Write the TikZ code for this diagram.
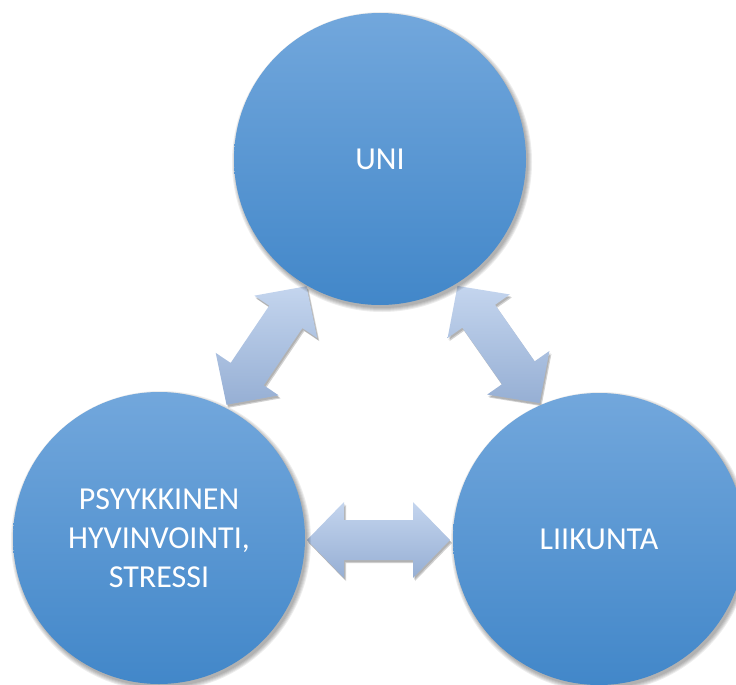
\documentclass[tikz,border=0pt]{standalone}
\usepackage{fontspec}
\setmainfont{Carlito}
\usetikzlibrary{calc}
\definecolor{ctop}{RGB}{114,167,220}
\definecolor{cbot}{RGB}{66,135,201}
\definecolor{atop}{RGB}{196,213,238}
\definecolor{abot}{RGB}{150,175,212}
\tikzset{
  bubble/.style={circle, minimum size=292pt, inner sep=0pt, top color=ctop, bottom color=cbot,
    text=white, font=\fontsize{32}{39}\selectfont, align=center},
  softshadow/.style={fill=black, fill opacity=0.07},
  arrowshade/.style={top color=atop, bottom color=abot},
}
\newcommand\arrpath[3]{%
  \path[#3] ($(#1)+(#2:71.5)$) -- ($(#1)+(#2:34.5)+({#2+90}:38)$) -- ($(#1)+(#2:34.5)+({#2+90}:20)$)
   -- ($(#1)+({#2+180}:34.5)+({#2+90}:20)$) -- ($(#1)+({#2+180}:34.5)+({#2+90}:38)$)
   -- ($(#1)+({#2+180}:71.5)$) -- ($(#1)+({#2+180}:34.5)+({#2-90}:38)$) -- ($(#1)+({#2+180}:34.5)+({#2-90}:20)$)
   -- ($(#1)+(#2:34.5)+({#2-90}:20)$) -- ($(#1)+(#2:34.5)+({#2-90}:38)$) -- cycle;}
\begin{document}
\begin{tikzpicture}[x=1pt,y=1pt]
\useasboundingbox (0,0) rectangle (736,-685);
\clip (0,0) rectangle (736,-685);
% circle centres
\coordinate (cu) at (380,-159);
\coordinate (cl) at (599,-539);
\coordinate (cp) at (159,-538);
% arrow centres
\coordinate (a1) at (266.5,-345.5);
\coordinate (a2) at (498.5,-344.5);
\coordinate (a3) at (378.5,-540);
% arrow shadows
\foreach \c/\ang in {a1/56, a2/-55, a3/0}{
  \coordinate (s1) at ($(\c)+(2,-3)$);
  \coordinate (s2) at ($(\c)+(1,-2)$);
  \arrpath{s1}{\ang}{fill=black, fill opacity=0.18}
  \arrpath{s2}{\ang}{fill=black, fill opacity=0.15}
}
% arrows
\arrpath{a1}{56}{arrowshade}
\arrpath{a2}{-55}{arrowshade}
\arrpath{a3}{0}{arrowshade}
% circle shadows
\foreach \p in {cu,cl,cp}{
  \foreach \r in {146,147,148,149,150}{
    \fill[softshadow] ($(\p)+(2,-3)$) circle (\r pt);
  }
}
% circles
\node[bubble] (uni) at (cu) {UNI};
\node[bubble] (liik) at (cl) {LIIKUNTA};
\node[bubble] (psy) at (cp) {PSYYKKINEN\\HYVINVOINTI,\\STRESSI};
\end{tikzpicture}
\end{document}
